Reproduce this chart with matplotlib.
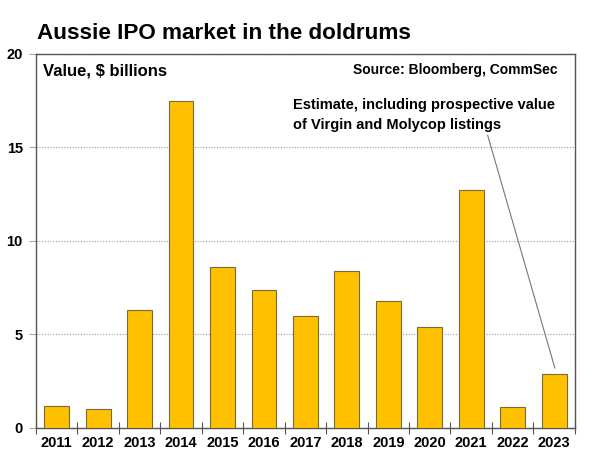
import numpy as np
import matplotlib.pyplot as plt

plt.rcParams['font.family'] = ['Liberation Sans', 'DejaVu Sans']
plt.rcParams['font.weight'] = 'bold'

years = ['2011', '2012', '2013', '2014', '2015', '2016', '2017',
         '2018', '2019', '2020', '2021', '2022', '2023']
ipo_value = [1.2, 1.0, 6.3, 17.5, 8.6, 7.4, 6.0, 8.4, 6.8, 5.4, 12.7, 1.1, 2.9]
y_ticks = [0, 5, 10, 15, 20]

fig = plt.figure(figsize=(6, 4.61), dpi=100)
ax = fig.add_axes([0.06, 0.0716, 0.898, 0.8114])

x = np.arange(len(years))
ax.bar(x, ipo_value, width=0.6, color='#FFC000', edgecolor='#7a6a3a',
       linewidth=0.8, zorder=3)

ax.set_xlim(-0.5, len(years) - 0.5)
ax.set_ylim(0, 20)
ax.set_yticks(y_ticks)
ax.set_yticklabels([str(v) for v in y_ticks], fontsize=10.5, fontweight='bold')
ax.set_xticks(x)
ax.set_xticklabels(years, fontsize=10.5, fontweight='bold')
ax.set_xticks(np.arange(len(years) + 1) - 0.5, minor=True)
ax.tick_params(axis='x', which='major', length=0, pad=6)
ax.tick_params(axis='x', which='minor', length=9, direction='inout',
               color='#555555', width=0.8)
ax.tick_params(axis='y', length=5, color='#aaaaaa', width=0.8, pad=4.5,
               direction='out')

ax.yaxis.grid(True, linestyle=(0, (1, 1.5)), color='#999999', linewidth=0.8,
              zorder=0)
for s in ax.spines.values():
    s.set_color('#555555')
    s.set_linewidth(1.0)

fig.text(0.062, 0.928, 'Aussie IPO market in the doldrums', fontsize=16.2,
         fontweight='bold', ha='left', va='center')
ax.text(0.013, 0.975, 'Value, $ billions', transform=ax.transAxes,
        fontsize=12, fontweight='bold', ha='left', va='top')
ax.text(0.968, 0.975, 'Source: Bloomberg, CommSec', transform=ax.transAxes,
        fontsize=10, fontweight='bold', ha='right', va='top')

ax.annotate('Estimate, including prospective value\nof Virgin and Molycop listings',
            xy=(12.02, 3.2), xytext=(5.7, 15.8),
            fontsize=10.5, fontweight='bold', ha='left', va='bottom',
            linespacing=1.6,
            arrowprops=dict(arrowstyle='-', color='#777777', lw=0.8,
                            shrinkA=2, shrinkB=0,
                            patchA=None, relpos=(0.74, 0.0)))

plt.savefig('out.png', dpi=100)
